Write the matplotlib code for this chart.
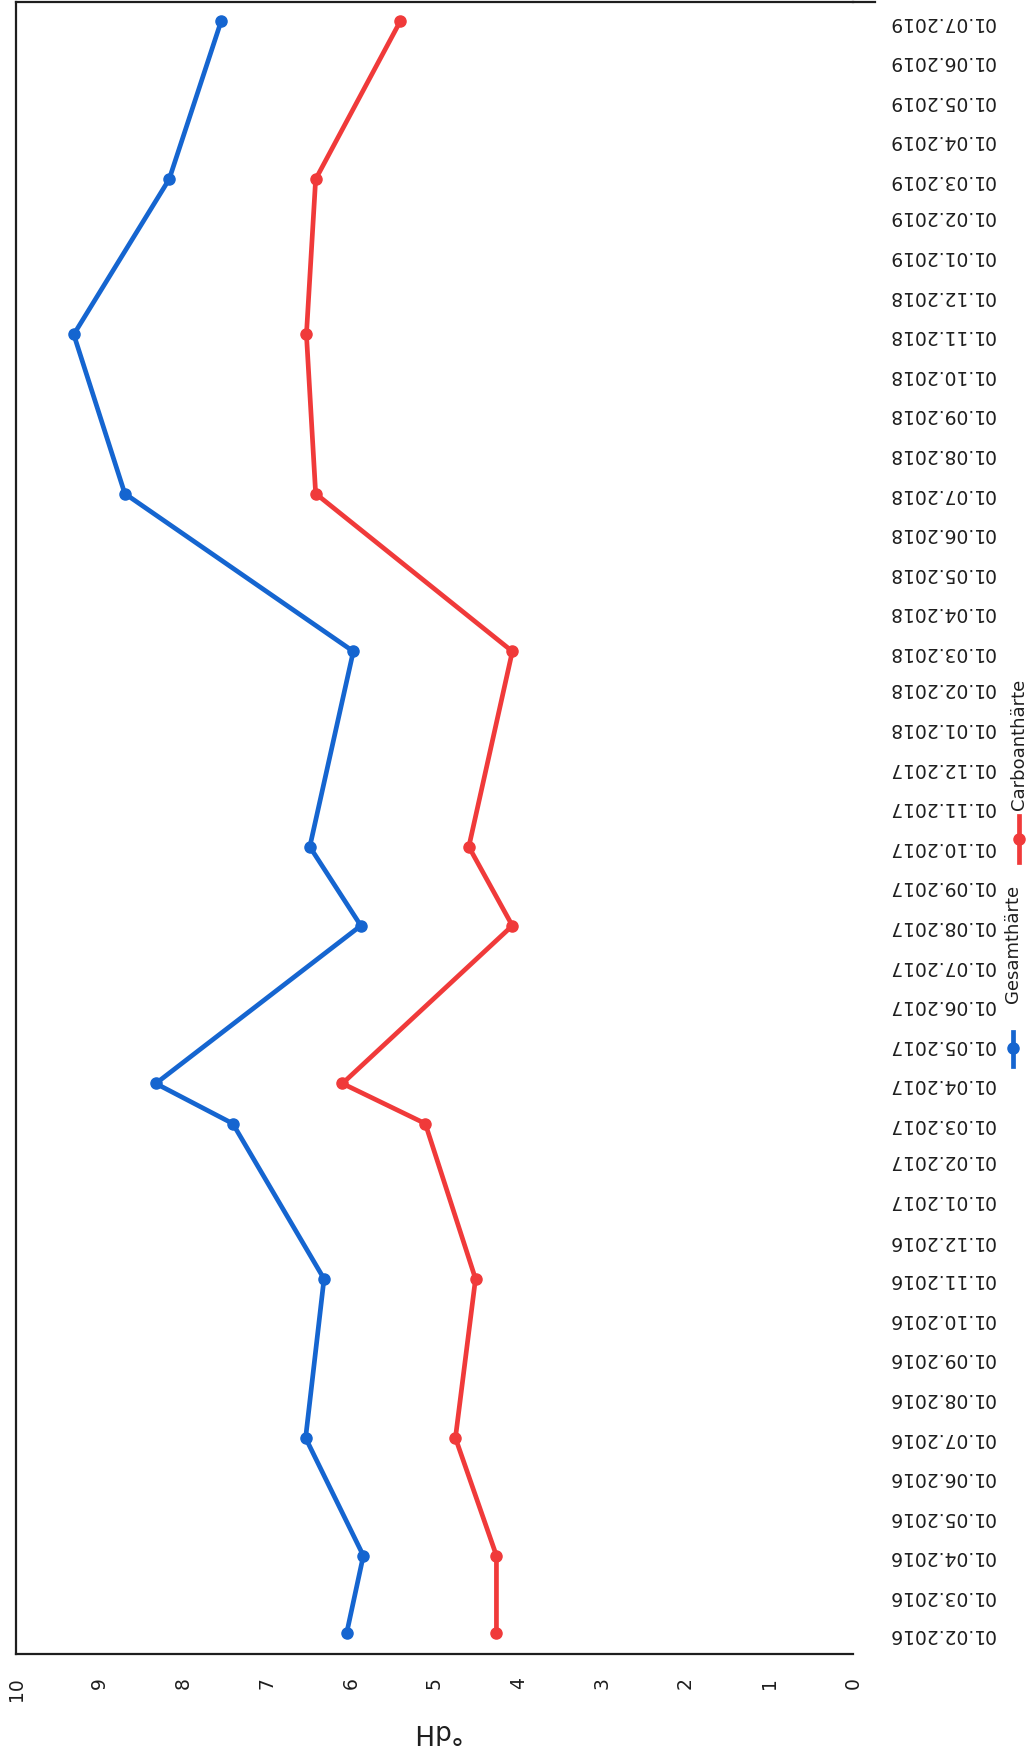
import numpy as np
import pandas as pd
import matplotlib
matplotlib.use("Agg")
import matplotlib.pyplot as plt
import matplotlib.dates as mdates
from matplotlib.lines import Line2D

plt.rcParams['font.family'] = 'DejaVu Sans'

# Messwerte Wasserhärte in °dH
dates = ['2016-02-01', '2016-04-01', '2016-07-01', '2016-11-01', '2017-03-01',
         '2017-04-01', '2017-08-01', '2017-10-01', '2018-03-01', '2018-07-01',
         '2018-11-01', '2019-03-01', '2019-07-01']
gesamt = [6.05, 5.85, 6.54, 6.32, 7.41, 8.33, 5.88, 6.49, 5.97, 8.70, 9.31, 8.17, 7.55]
carbo = [4.26, 4.26, 4.75, 4.51, 5.11, 6.10, 4.07, 4.59, 4.07, 6.42, 6.53, 6.42, 5.41]
labels = ['Gesamthärte', 'Carboanthärte']

blue = '#1565d0'
red = '#f03a3a'
dark = '#1e1e1e'

d = pd.to_datetime(dates)

fig = plt.figure(figsize=(10.33, 17.49), dpi=100)
ax = fig.add_axes([16/1033, 94/1749, (853-16)/1033, (1655-3)/1749])

# Diagramm liegt gedreht: Wert horizontal (10 links), Datum nach oben
ax.plot(gesamt, d, color=blue, lw=3.4, marker='o', ms=8)
ax.plot(carbo, d, color=red, lw=3.4, marker='o', ms=8)

ax.set_xlim(10, 0)
ax.set_ylim(pd.Timestamp('2016-01-16'), pd.Timestamp('2019-07-16'))

ax.set_xticks(np.arange(0, 11, 1))
ax.tick_params(axis='x', length=0, pad=16, labelsize=13.5, labelrotation=90,
               labelcolor=dark)
ax.set_xlabel('°dH', fontsize=19, rotation=180, color=dark, labelpad=12)

ax.yaxis.tick_right()
ax.yaxis.set_major_locator(mdates.MonthLocator())
ax.yaxis.set_major_formatter(mdates.DateFormatter('%d.%m.%Y'))
ax.tick_params(axis='y', length=0, pad=25, labelsize=13.5, labelrotation=180,
               labelcolor=dark)

for side in ['left', 'top', 'bottom']:
    ax.spines[side].set_color(dark)
    ax.spines[side].set_linewidth(1.6)
ax.spines['right'].set_visible(False)
ax.plot([1, 1.026], [1, 1], transform=ax.transAxes, color=dark, lw=1.6,
        clip_on=False)

# Legende, senkrecht gesetzt
def fy(y):
    return 1 - y / 1749

for col, lab, x, y0, y1, ym, yt in [
        (blue, labels[0], 1013, 1033, 1067, 1049, 1003),
        (red, labels[1], 1019, 817, 863, 840, 810)]:
    fig.add_artist(Line2D([x/1033, x/1033], [fy(y0), fy(y1)], color=col, lw=3.4))
    fig.add_artist(Line2D([x/1033], [fy(ym)], color=col, marker='o', ms=8))
    fig.text(x/1033, fy(yt), lab, rotation=90, ha='center', va='bottom',
             fontsize=13, color=dark)

# Datumsbeschriftung mittig zur Tickposition
fig.canvas.draw()
plt.setp(ax.get_yticklabels(), va='center')

fig.savefig('out.png', dpi=100)
